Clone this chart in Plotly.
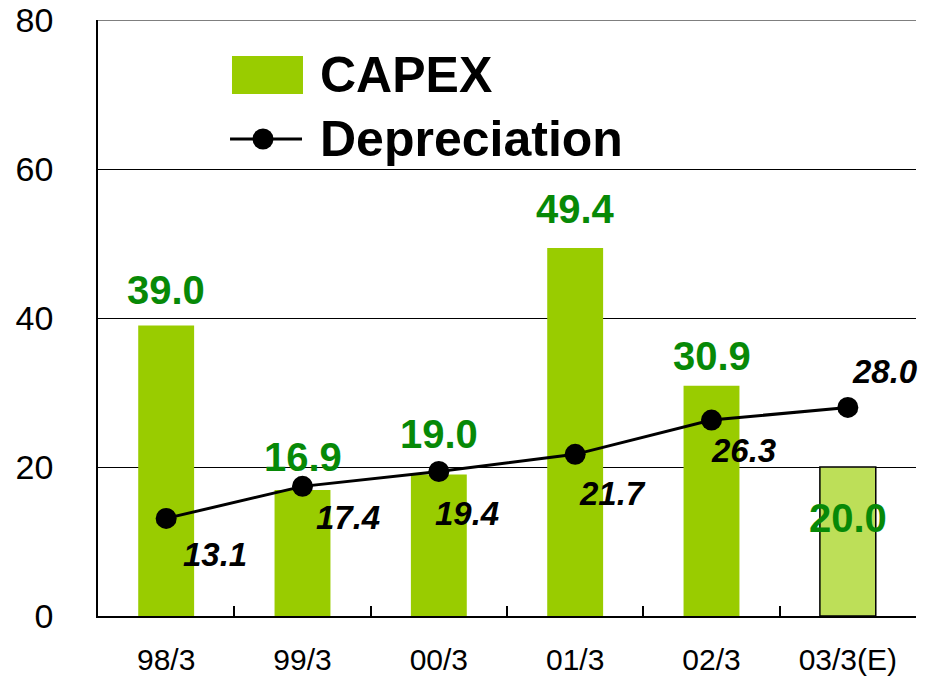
import plotly.graph_objects as go

categories = ["98/3", "99/3", "00/3", "01/3", "02/3", "03/3(E)"]
capex = [39.0, 16.9, 19.0, 49.4, 30.9, 20.0]
depreciation = [13.1, 17.4, 19.4, 21.7, 26.3, 28.0]
y_ticks = [0, 20, 40, 60, 80]

FONT = "Liberation Sans, Arial, sans-serif"
BAR = "#99cc00"
BAR_EST = "#bddf58"
GREEN_TXT = "#078907"

bar_colors = [BAR] * (len(categories) - 1) + [BAR_EST]
bar_line_w = [0] * (len(categories) - 1) + [1.5]

# label offsets (pixels)
capex_yshift = [35, 33, 40, 39, 30, -51]
dep_xshift = [49, 45, 28, 37, 32, 37]
dep_yshift = [-36, -31, -42, -39, -30, 36]

fig = go.Figure()
fig.add_trace(go.Bar(
    x=categories, y=capex, name="CAPEX", width=0.41,
    marker=dict(color=bar_colors, line=dict(color="black", width=bar_line_w)),
    showlegend=False,
))
fig.add_trace(go.Scatter(
    x=categories, y=depreciation, name="Depreciation", mode="lines+markers",
    line=dict(color="black", width=3), marker=dict(color="black", size=21),
    showlegend=False,
))

for c, v, ys in zip(categories, capex, capex_yshift):
    fig.add_annotation(x=c, y=v, text=f"<b>{v:.1f}</b>", showarrow=False,
                       yanchor="middle", xanchor="center", yshift=ys,
                       font=dict(family=FONT, size=40, color=GREEN_TXT))
for c, v, xs, ys in zip(categories, depreciation, dep_xshift, dep_yshift):
    fig.add_annotation(x=c, y=v, text=f"<b><i>{v:.1f}</i></b>", showarrow=False,
                       yanchor="middle", xanchor="center", xshift=xs, yshift=ys,
                       font=dict(family=FONT, size=33, color="black"))

# top gridline (plotly clips gridlines at the range edge)
fig.add_shape(type="line", xref="paper", yref="y", x0=0, x1=1, y0=80, y1=80,
              line=dict(color="black", width=1))

# manual legend
fig.add_shape(type="rect", xref="paper", yref="paper",
              x0=0.1638, x1=0.2506, y0=0.8758, y1=0.9396,
              fillcolor=BAR, line=dict(width=0), layer="above")
fig.add_shape(type="line", xref="paper", yref="paper",
              x0=0.1614, x1=0.2494, y0=0.8003, y1=0.8003,
              line=dict(color="black", width=3), layer="above")
fig.add_shape(type="circle", xref="paper", yref="paper",
              xsizemode="pixel", ysizemode="pixel",
              xanchor=0.2017, yanchor=0.8003, x0=-10.5, x1=10.5, y0=-10.5, y1=10.5,
              fillcolor="black", line=dict(width=0), layer="above")
fig.add_annotation(xref="paper", yref="paper", x=0.2689, y=0.9077,
                   xanchor="left", yanchor="middle", showarrow=False,
                   text="<b>CAPEX</b>", font=dict(family=FONT, size=50, color="black"))
fig.add_annotation(xref="paper", yref="paper", x=0.2689, y=0.8003,
                   xanchor="left", yanchor="middle", showarrow=False,
                   text="<b>Depreciation</b>", font=dict(family=FONT, size=50, color="black"))

fig.update_layout(
    width=933, height=678,
    margin=dict(l=98, r=17, t=20, b=62, autoexpand=False),
    paper_bgcolor="white", plot_bgcolor="white",
    font=dict(family=FONT, color="black"),
    showlegend=False,
)
fig.update_xaxes(
    type="category", showline=True, linecolor="black", linewidth=1.5,
    ticks="inside", tickson="boundaries", ticklen=10, tickcolor="black", tickwidth=1.5,
    tickfont=dict(size=30, family=FONT, color="black"), ticklabelstandoff=16,
    showgrid=False, range=[-0.5, 5.5], automargin=False,
)
fig.update_yaxes(
    range=[0, 80], tickvals=y_ticks, showline=True, linecolor="black", linewidth=1.5,
    showgrid=True, gridcolor="black", gridwidth=1,
    ticks="inside", ticklen=8, tickcolor="black",
    tickfont=dict(size=34, family=FONT, color="black"), ticklabelstandoff=36,
    zeroline=False, automargin=False,
)

fig.write_html("out.html", config={"displayModeBar": False},
               post_script="document.body.style.margin='0';document.body.style.padding='0';")
